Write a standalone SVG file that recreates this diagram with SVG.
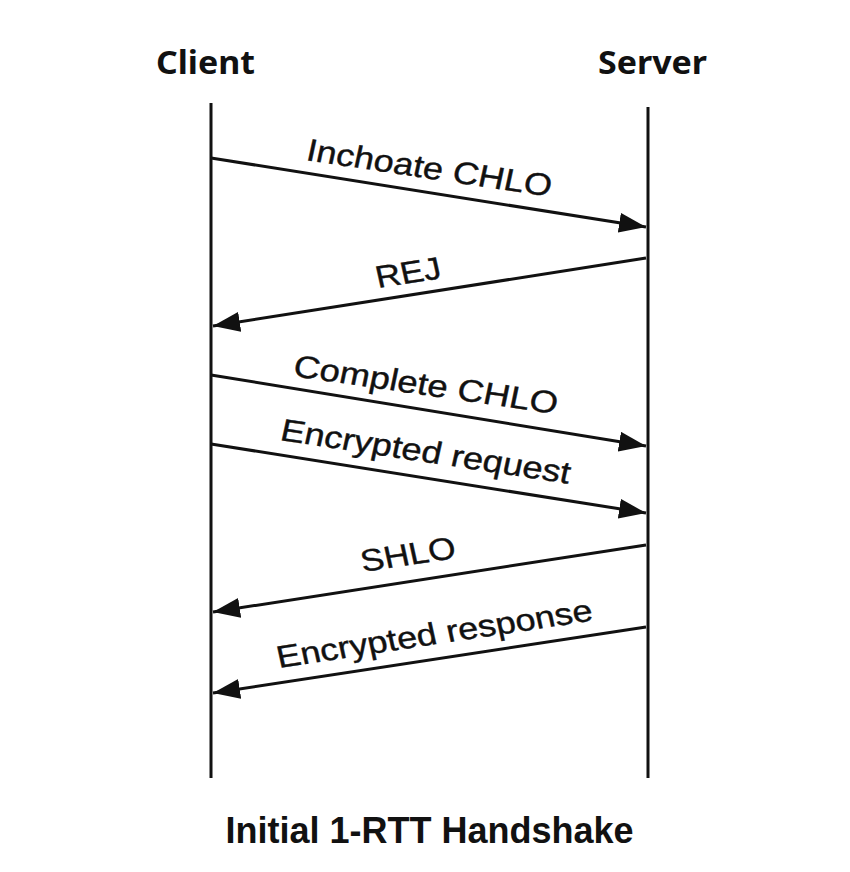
<svg xmlns="http://www.w3.org/2000/svg" width="850" height="872" viewBox="0 0 850 872">
<style>
.head{font-family:"Noto Sans","Liberation Sans",sans-serif;font-weight:bold;font-size:33px;fill:#111}
.lbl{font-family:"Liberation Sans",Arial,sans-serif;font-size:31px;fill:#111;stroke:#111;stroke-width:0.4}
.title{font-family:"Liberation Sans",Arial,sans-serif;font-weight:bold;font-size:36px;fill:#111}
.life{stroke:#111;stroke-width:3;fill:none}
.msg{stroke:#111;stroke-width:3;fill:none;marker-end:url(#arr)}
</style>
<defs>
<marker id="arr" viewBox="0 0 27 20" refX="27" refY="10" markerWidth="27" markerHeight="20" markerUnits="userSpaceOnUse" orient="auto">
<path d="M0,0 L27,10 L0,20 Z" fill="#111"/>
</marker>
</defs>
<rect width="850" height="872" fill="#fff"/>
<g id="client">
<text class="head" x="156" y="74" textLength="99" lengthAdjust="spacingAndGlyphs">Client</text>
<line class="life" x1="211" y1="103" x2="211" y2="778"/>
</g>
<g id="server">
<text class="head" x="598" y="74" textLength="109" lengthAdjust="spacingAndGlyphs">Server</text>
<line class="life" x1="648" y1="107" x2="648" y2="778"/>
</g>
<g id="connectors">
<line class="msg" x1="211" y1="158" x2="646" y2="227"/>
<line class="msg" x1="646" y1="258" x2="213" y2="326"/>
<line class="msg" x1="211" y1="375" x2="646" y2="446"/>
<line class="msg" x1="211" y1="444" x2="646" y2="513"/>
<line class="msg" x1="646" y1="545" x2="213" y2="612"/>
<line class="msg" x1="646" y1="627" x2="213" y2="693"/>
</g>
<g id="labels">
<text class="lbl" transform="translate(305,160) scale(1.2,1) rotate(10.2)" textLength="207" lengthAdjust="spacingAndGlyphs">Inchoate CHLO</text>
<text class="lbl" transform="translate(378,288) scale(1.2,1) rotate(-10.5)" textLength="55" lengthAdjust="spacingAndGlyphs">REJ</text>
<text class="lbl" transform="translate(292,376) scale(1.2,1) rotate(9.8)" textLength="223" lengthAdjust="spacingAndGlyphs">Complete CHLO</text>
<text class="lbl" transform="translate(279,440) scale(1.2,1) rotate(10.3)" textLength="245" lengthAdjust="spacingAndGlyphs">Encrypted request</text>
<text class="lbl" transform="translate(363,572) scale(1.2,1) rotate(-10.3)" textLength="80" lengthAdjust="spacingAndGlyphs">SHLO</text>
<text class="lbl" transform="translate(279,668) scale(1.2,1) rotate(-10.3)" textLength="267" lengthAdjust="spacingAndGlyphs">Encrypted response</text>
</g>
<g id="title">
<text class="title" x="429.5" y="843" text-anchor="middle">Initial 1-RTT Handshake</text>
</g>
</svg>
